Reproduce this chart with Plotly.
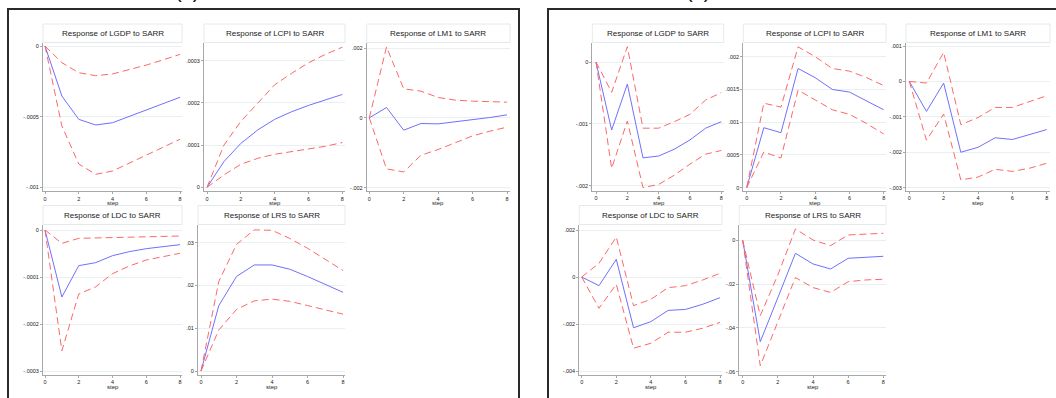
import plotly.graph_objects as go

W, H = 1056, 398

steps = [0, 1, 2, 3, 4, 5, 6, 7, 8]
x_ticks = [0, 2, 4, 6, 8]

# ---- (a) impulse responses to SARR: point estimate, lower and upper band ----
a_lgdp_irf = [0, -0.000354, -0.000519, -0.000559, -0.000543, -0.000498, -0.000453, -0.000408, -0.000363]
a_lgdp_lo = [0, -0.000566, -0.000835, -0.000908, -0.000885, -0.000830, -0.000772, -0.000716, -0.000660]
a_lgdp_hi = [0, -0.000118, -0.000189, -0.000210, -0.000198, -0.000168, -0.000135, -0.000098, -0.000059]

a_lcpi_irf = [0, 0.0000608, 0.000104, 0.000136, 0.000161, 0.000179, 0.000194, 0.000207, 0.000220]
a_lcpi_lo = [0, 0.0000292, 0.0000545, 0.0000687, 0.0000782, 0.0000845, 0.0000908, 0.0000972, 0.000106]
a_lcpi_hi = [0, 0.000100, 0.000156, 0.000199, 0.000243, 0.000270, 0.000295, 0.000315, 0.000332]

a_lm1_irf = [0, 0.000296, -0.000353, -0.000162, -0.000172, -0.000115, -0.0000573, 0.0000096, 0.000086]
a_lm1_lo = [0, -0.00146, -0.00155, -0.00107, -0.000907, -0.000716, -0.000516, -0.000382, -0.000267]
a_lm1_hi = [0, 0.00203, 0.00083, 0.000764, 0.000583, 0.000506, 0.000478, 0.000458, 0.000449]

a_ldc_irf = [0, -0.0001426, -0.0000759, -0.0000695, -0.0000546, -0.0000461, -0.0000397, -0.0000347, -0.0000312]
a_ldc_lo = [0, -0.000257, -0.000136, -0.000121, -0.0000929, -0.0000766, -0.0000638, -0.0000560, -0.0000496]
a_ldc_hi = [0, -0.0000284, -0.0000177, -0.0000170, -0.0000156, -0.0000149, -0.0000142, -0.0000135, -0.0000128]

a_lrs_irf = [0, 0.01527, 0.0221, 0.0248, 0.0248, 0.0238, 0.0221, 0.0203, 0.0184]
a_lrs_lo = [0, 0.00958, 0.0144, 0.0164, 0.0168, 0.0163, 0.0153, 0.0143, 0.0133]
a_lrs_hi = [0, 0.0209, 0.0296, 0.0330, 0.0329, 0.0310, 0.0287, 0.0260, 0.0235]

# ---- (b) impulse responses to SARR ----
b_lgdp_irf = [0, -0.00110, -0.000356, -0.00155, -0.00152, -0.00141, -0.00126, -0.00107, -0.000965]
b_lgdp_lo = [0, -0.00172, -0.000954, -0.00203, -0.00198, -0.00183, -0.00165, -0.00149, -0.00143]
b_lgdp_hi = [0, -0.00049, 0.000248, -0.00107, -0.00107, -0.000965, -0.000846, -0.000614, -0.000496]

b_lcpi_irf = [0, 0.000916, 0.00084, 0.00182, 0.00168, 0.00150, 0.00146, 0.00133, 0.00119]
b_lcpi_lo = [0, 0.000545, 0.000453, 0.00149, 0.00134, 0.00119, 0.00112, 0.00098, 0.00082]
b_lcpi_hi = [0, 0.00129, 0.00123, 0.00215, 0.00200, 0.00182, 0.00178, 0.00168, 0.00156]

b_lm1_irf = [0, -0.000847, -0.0000471, -0.00200, -0.00186, -0.00159, -0.00164, -0.00151, -0.00136]
b_lm1_lo = [0, -0.00166, -0.000922, -0.00278, -0.00270, -0.00248, -0.00254, -0.00245, -0.00231]
b_lm1_hi = [0, -0.0000471, 0.000819, -0.00122, -0.00102, -0.000734, -0.000734, -0.000565, -0.000405]

b_ldc_irf = [0, -0.000369, 0.000752, -0.00216, -0.00190, -0.00142, -0.00138, -0.00116, -0.00088]
b_ldc_lo = [0, -0.00133, -0.000312, -0.00303, -0.00282, -0.00235, -0.00235, -0.00218, -0.00193]
b_ldc_hi = [0, 0.000582, 0.00170, -0.00122, -0.00095, -0.000454, -0.000369, -0.000128, 0.000156]

b_lrs_irf = [0, -0.0463, -0.0262, -0.00594, -0.0108, -0.0131, -0.00822, -0.00777, -0.00731]
b_lrs_lo = [0, -0.0573, -0.0372, -0.0170, -0.0216, -0.0238, -0.0189, -0.0181, -0.0178]
b_lrs_hi = [0, -0.0344, -0.0158, 0.00518, 0.00015, -0.00244, 0.00244, 0.00289, 0.0032]

# y-axis tick values and Stata-style labels for each panel
a_lgdp_yt, a_lgdp_yl = [0, -0.0005, -0.001], ["0", "-.0005", "-.001"]
a_lcpi_yt, a_lcpi_yl = [0, 0.0001, 0.0002, 0.0003], ["0", ".0001", ".0002", ".0003"]
a_lm1_yt, a_lm1_yl = [0.002, 0, -0.002], [".002", "0", "-.002"]
a_ldc_yt, a_ldc_yl = [0, -0.0001, -0.0002, -0.0003], ["0", "-.0001", "-.0002", "-.0003"]
a_lrs_yt, a_lrs_yl = [0, 0.01, 0.02, 0.03], ["0", ".01", ".02", ".03"]
b_lgdp_yt, b_lgdp_yl = [0, -0.001, -0.002], ["0", "-.001", "-.002"]
b_lcpi_yt, b_lcpi_yl = [0, 0.0005, 0.001, 0.0015, 0.002], ["0", ".0005", ".001", ".0015", ".002"]
b_lm1_yt, b_lm1_yl = [0.001, 0, -0.001, -0.002, -0.003], [".001", "0", "-.001", "-.002", "-.003"]
b_ldc_yt, b_ldc_yl = [0.002, 0, -0.002, -0.004], [".002", "0", "-.002", "-.004"]
b_lrs_yt, b_lrs_yl = [0, -0.02, -0.04, -0.06], ["0", "-.02", "-.04", "-.06"]

panels = [
    # title, series, y ticks, geometry (pixels): plot left/right/top/bottom,
    # pixel of step 0 and step 8, and two y tick values with their pixel rows
    dict(title="Response of LGDP to SARR", s=(a_lgdp_irf, a_lgdp_lo, a_lgdp_hi), yt=a_lgdp_yt, yl=a_lgdp_yl,
         L=43, R=182, T=43, B=191, X0=45, X8=180, v1=0, p1=46, v2=-0.001, p2=187.3),
    dict(title="Response of LCPI to SARR", s=(a_lcpi_irf, a_lcpi_lo, a_lcpi_hi), yt=a_lcpi_yt, yl=a_lcpi_yl,
         L=204, R=345, T=43, B=191, X0=207, X8=342.3, v1=0, p1=187.3, v2=0.0003, p2=60.7),
    dict(title="Response of LM1 to SARR", s=(a_lm1_irf, a_lm1_lo, a_lm1_hi), yt=a_lm1_yt, yl=a_lm1_yl,
         L=366.7, R=510, T=43, B=191, X0=369.3, X8=507, v1=0.002, p1=48, v2=-0.002, p2=187.7),
    dict(title="Response of LDC to SARR", s=(a_ldc_irf, a_ldc_lo, a_ldc_hi), yt=a_ldc_yt, yl=a_ldc_yl,
         L=43, R=182, T=225, B=374.5, X0=45, X8=180, v1=0, p1=230, v2=-0.0003, p2=371),
    dict(title="Response of LRS to SARR", s=(a_lrs_irf, a_lrs_lo, a_lrs_hi), yt=a_lrs_yt, yl=a_lrs_yl,
         L=198, R=345, T=225, B=374.5, X0=201, X8=343, v1=0.03, p1=242.7, v2=0, p2=371),
    dict(title="Response of LGDP to SARR", s=(b_lgdp_irf, b_lgdp_lo, b_lgdp_hi), yt=b_lgdp_yt, yl=b_lgdp_yl,
         L=592.3, R=723.7, T=43, B=190.7, X0=596, X8=721.3, v1=0, p1=62, v2=-0.002, p2=185.7),
    dict(title="Response of LCPI to SARR", s=(b_lcpi_irf, b_lcpi_lo, b_lcpi_hi), yt=b_lcpi_yt, yl=b_lcpi_yl,
         L=743.3, R=886, T=43, B=190.7, X0=746.7, X8=883.7, v1=0, p1=187.7, v2=0.002, p2=56.7),
    dict(title="Response of LM1 to SARR", s=(b_lm1_irf, b_lm1_lo, b_lm1_hi), yt=b_lm1_yt, yl=b_lm1_yl,
         L=906, R=1050, T=43, B=190.7, X0=909.3, X8=1046.7, v1=0.001, p1=46, v2=-0.003, p2=187.7),
    dict(title="Response of LDC to SARR", s=(b_ldc_irf, b_ldc_lo, b_ldc_hi), yt=b_ldc_yt, yl=b_ldc_yl,
         L=579.3, R=722, T=225, B=374.5, X0=581.7, X8=720, v1=0.002, p1=230, v2=-0.004, p2=371),
    dict(title="Response of LRS to SARR", s=(b_lrs_irf, b_lrs_lo, b_lrs_hi), yt=b_lrs_yt, yl=b_lrs_yl,
         L=739.3, R=886, T=225, B=374.5, X0=742.7, X8=883.3, v1=0, p1=240.3, v2=-0.06, p2=371.7),
]

BLUE = "rgb(112,112,252)"
RED = "rgb(252,104,104)"
AXIS = "#a8a8a8"
GRID = "#eaf0f2"
TXT = "#222222"
FONT = "Liberation Sans, Arial, sans-serif"

fig = go.Figure()
layout = dict(
    width=W, height=H, margin=dict(l=0, r=0, t=0, b=0),
    paper_bgcolor="white", plot_bgcolor="white", showlegend=False,
    font=dict(family=FONT, color=TXT),
)
shapes, annotations = [], []

# outer frames of the two combined graphs
shapes.append(dict(type="rect", xref="paper", yref="paper", x0=8 / W, x1=519 / W,
                   y0=-0.1, y1=1 - 9 / H, line=dict(color="#2a2a2a", width=2)))
shapes.append(dict(type="rect", xref="paper", yref="paper", x0=548 / W, x1=1.1,
                   y0=-0.1, y1=1 - 9 / H, line=dict(color="#2a2a2a", width=2)))
annotations.append(dict(text="(a)", x=187 / W, y=1 - 4 / H, xref="paper", yref="paper",
                        xanchor="center", yanchor="bottom", showarrow=False,
                        font=dict(size=20, color="#111")))
annotations.append(dict(text="(b)", x=698 / W, y=1 - 4 / H, xref="paper", yref="paper",
                        xanchor="center", yanchor="bottom", showarrow=False,
                        font=dict(size=20, color="#111")))

for i, p in enumerate(panels, start=1):
    xa = "xaxis" if i == 1 else f"xaxis{i}"
    ya = "yaxis" if i == 1 else f"yaxis{i}"
    xr_ = "x" if i == 1 else f"x{i}"
    yr_ = "y" if i == 1 else f"y{i}"

    unit = (p["X8"] - p["X0"]) / 8
    xrange = [(p["L"] - p["X0"]) / unit, (p["R"] - p["X0"]) / unit]
    slope = (p["v2"] - p["v1"]) / (p["p2"] - p["p1"])
    yrange = [p["v1"] + (p["B"] - p["p1"]) * slope, p["v1"] + (p["T"] - p["p1"]) * slope]

    layout[xa] = dict(domain=[p["L"] / W, p["R"] / W], range=xrange, anchor=yr_,
                      tickvals=x_ticks, ticktext=[str(v) for v in x_ticks],
                      showline=True, linecolor=AXIS, linewidth=1, ticks="outside",
                      ticklen=2, tickcolor=AXIS, tickfont=dict(size=5.5, color=TXT),
                      showgrid=False, zeroline=False, fixedrange=True)
    layout[ya] = dict(domain=[1 - p["B"] / H, 1 - p["T"] / H], range=yrange, anchor=xr_,
                      tickvals=p["yt"], ticktext=p["yl"],
                      showline=True, linecolor=AXIS, linewidth=1, ticks="outside",
                      ticklen=2, tickcolor=AXIS, tickfont=dict(size=5.5, color=TXT),
                      showgrid=True, gridcolor=GRID, gridwidth=1, zeroline=False,
                      fixedrange=True)

    irf, lo, hi = p["s"]
    fig.add_trace(go.Scatter(x=steps, y=irf, mode="lines", xaxis=xr_, yaxis=yr_,
                             line=dict(color=BLUE, width=1)))
    for band in (lo, hi):
        fig.add_trace(go.Scatter(x=steps, y=band, mode="lines", xaxis=xr_, yaxis=yr_,
                                 line=dict(color=RED, width=1, dash="7px,4px")))

    # subtitle box above each plot region
    box_top = 24 if p["T"] < 100 else 205.5
    shapes.append(dict(type="rect", xref="paper", yref="paper",
                       x0=p["L"] / W, x1=p["R"] / W, y0=1 - (p["T"] - 0.5) / H, y1=1 - box_top / H,
                       line=dict(color="#e4eaec", width=1), fillcolor="white", layer="below"))
    annotations.append(dict(text=p["title"], x=(p["L"] + p["R"]) / 2 / W,
                            y=1 - (box_top + p["T"]) / 2 / H, xref="paper", yref="paper",
                            xanchor="center", yanchor="middle", showarrow=False,
                            font=dict(size=8, color=TXT)))
    # x-axis title
    annotations.append(dict(text="step", x=(p["X0"] + 4 * unit) / W,
                            y=1 - (p["B"] + 12) / H, xref="paper", yref="paper",
                            xanchor="center", yanchor="middle", showarrow=False,
                            font=dict(size=6, color=TXT)))

layout["shapes"] = shapes
layout["annotations"] = annotations
fig.update_layout(**layout)
fig.write_html("out.html")
